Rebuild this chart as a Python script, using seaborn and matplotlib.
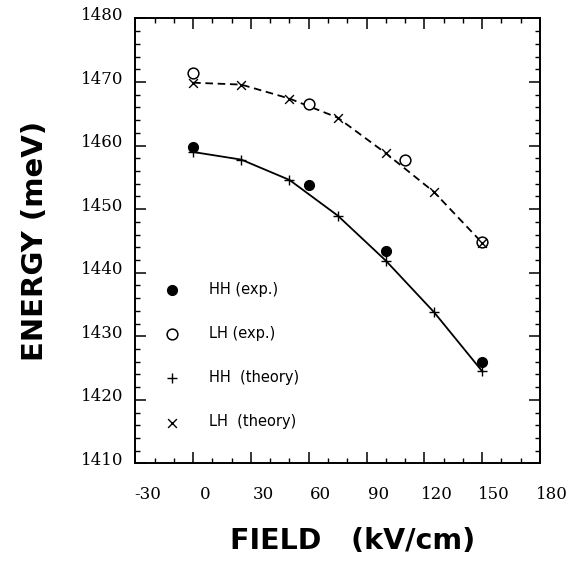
import matplotlib
matplotlib.use("Agg")
import matplotlib.pyplot as plt
import seaborn as sns
import numpy as np
from matplotlib.transforms import ScaledTranslation
from matplotlib.ticker import MultipleLocator

# ---------------- data ----------------
hh_exp_field = [0, 60, 100, 150]
hh_exp_energy = [1459.8, 1453.8, 1443.5, 1425.9]

lh_exp_field = [0, 60, 110, 150]
lh_exp_energy = [1471.4, 1466.5, 1457.8, 1444.8]

theory_field = [0, 25, 50, 75, 100, 125, 150]
hh_theory_energy = [1459.0, 1457.8, 1454.6, 1449.0, 1441.9, 1433.8, 1424.5]
lh_theory_energy = [1469.9, 1469.6, 1467.4, 1464.4, 1458.8, 1452.7, 1444.7]

xtick_values = [-30, 0, 30, 60, 90, 120, 150, 180]
xtick_labels = ["-30", "0", "30", "60", "90", "120", "150", "180"]
ytick_values = [1410, 1420, 1430, 1440, 1450, 1460, 1470, 1480]
ytick_labels = ["1410", "1420", "1430", "1440", "1450", "1460", "1470", "1480"]

legend_labels = ["HH (exp.)", "LH (exp.)", "HH  (theory)", "LH  (theory)"]

# ---------------- style ----------------
sns.set_style("ticks")
plt.rcParams["font.family"] = ["DejaVu Sans"]
plt.rcParams["axes.unicode_minus"] = False
plt.rcParams["text.color"] = "black"
plt.rcParams["axes.labelcolor"] = "black"
plt.rcParams["xtick.color"] = "black"
plt.rcParams["ytick.color"] = "black"

fig = plt.figure(figsize=(5.82, 5.62), dpi=100)
ax = fig.add_axes([0.2325, 0.1753, 0.6954, 0.7918])

# curves through theory points
sns.lineplot(x=theory_field, y=hh_theory_energy, color="black", linewidth=1.3,
             ax=ax, legend=False, sort=False)
sns.lineplot(x=theory_field, y=lh_theory_energy, color="black", linewidth=1.3,
             ax=ax, legend=False, sort=False)
ax.lines[-1].set_dashes((4.2, 2.6))

# markers
sns.scatterplot(x=hh_exp_field, y=hh_exp_energy, marker="o", s=52, color="black",
                edgecolor="black", linewidth=0.8, label=legend_labels[0], ax=ax, zorder=3)
sns.scatterplot(x=lh_exp_field, y=lh_exp_energy, marker="o", s=60, facecolor="white",
                edgecolor="black", linewidth=1.1, label=legend_labels[1], ax=ax, zorder=3)
sns.scatterplot(x=theory_field, y=hh_theory_energy, marker="+", s=55, color="black",
                linewidth=1.0, label=legend_labels[2], ax=ax, zorder=4)
sns.scatterplot(x=theory_field, y=lh_theory_energy, marker="x", s=40, color="black",
                linewidth=1.0, label=legend_labels[3], ax=ax, zorder=4)

ax.set_xlim(-30, 180)
ax.set_ylim(1410, 1480)

ax.set_xticks(xtick_values)
ax.set_xticklabels(xtick_labels)
ax.set_yticks(ytick_values)
ax.set_yticklabels(ytick_labels)
ax.xaxis.set_minor_locator(MultipleLocator(10))
ax.yaxis.set_minor_locator(MultipleLocator(2))

for s in ax.spines.values():
    s.set_visible(True)
    s.set_linewidth(1.4)
    s.set_color("black")

ax.tick_params(which="both", direction="in", top=True, right=True, color="black")
ax.tick_params(which="major", length=8, width=1.1)
ax.tick_params(which="minor", length=3.6, width=1.0)
ax.tick_params(axis="y", which="major", pad=8.5)
ax.tick_params(axis="x", which="major", pad=16)

for lab in ax.get_yticklabels() + ax.get_xticklabels():
    lab.set_fontfamily("DejaVu Serif")
    lab.set_fontsize(12)
    lab.set_color("black")

dx = ScaledTranslation(0.12, 0, fig.dpi_scale_trans)
dy = ScaledTranslation(0, 0.05, fig.dpi_scale_trans)
for lab in ax.get_xticklabels():
    lab.set_transform(lab.get_transform() + dx)
for lab in ax.get_yticklabels():
    lab.set_transform(lab.get_transform() + dy)

ax.set_xlabel("FIELD   (kV/cm)", fontsize=20.5, fontweight="bold",
              family="DejaVu Sans", color="black")
ax.set_ylabel("ENERGY (meV)", fontsize=21, fontweight="bold",
              family="DejaVu Sans", color="black")
ax.xaxis.set_label_coords(0.537, -0.143)
ax.yaxis.set_label_coords(-0.214, 0.5)

leg = ax.legend(loc="upper left", bbox_to_anchor=(0.055, 0.408), frameon=False,
                fontsize=10.5, handletextpad=1.5, labelspacing=2.0,
                borderpad=0, borderaxespad=0, handlelength=2.0)
for t in leg.get_texts():
    t.set_color("black")

fig.savefig("out.png", dpi=100)
